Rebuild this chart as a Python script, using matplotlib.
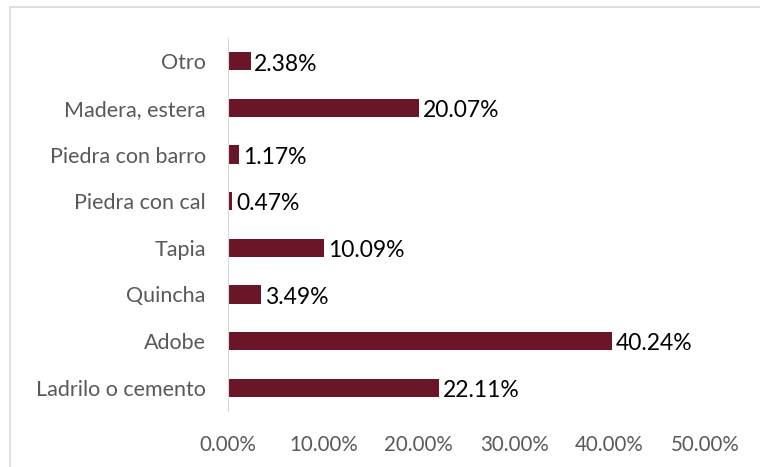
import matplotlib.pyplot as plt
import matplotlib.patches as patches
from matplotlib.ticker import FuncFormatter

categorias = ["Ladrilo o cemento", "Adobe", "Quincha", "Tapia",
              "Piedra con cal", "Piedra con barro", "Madera, estera", "Otro"]
valores = [22.11, 40.24, 3.49, 10.09, 0.47, 1.17, 20.07, 2.38]
ticks_x = [0, 10, 20, 30, 40, 50]

plt.rcParams['font.family'] = ['Lato', 'DejaVu Sans']

fig = plt.figure(figsize=(7.6, 4.67), dpi=100)
ax = fig.add_axes([0.3, 0.12, 0.6276, 0.7986])

color_barra = "#6B1528"
y = range(len(categorias))
barras = ax.barh(y, valores, height=0.39, color=color_barra)

for b, v in zip(barras, valores):
    ax.annotate(f"{v:.2f}%", (b.get_width(), b.get_y() + b.get_height() / 2),
                xytext=(2.5, -2), textcoords="offset points",
                ha="left", va="center", fontsize=16.5, color="black")

ax.set_xlim(0, 50)
ax.set_ylim(-0.5, len(categorias) - 0.5)
ax.set_yticks(list(y))
ax.set_yticklabels(categorias, fontsize=15.5, color="#595959")
ax.set_xticks(ticks_x)
ax.xaxis.set_major_formatter(FuncFormatter(lambda v, p: f"{v:.2f}%"))
ax.tick_params(axis="x", labelsize=14.8, labelcolor="#595959", length=0, pad=17)
ax.tick_params(axis="y", length=0, pad=16)

for s in ["top", "right", "bottom"]:
    ax.spines[s].set_visible(False)
ax.spines["left"].set_color("#D9D9D9")

# marco gris del gráfico
marco = patches.Rectangle((10 / 760, -0.1), 1.2, 1.1 - 7 / 467,
                          transform=fig.transFigure, fill=False,
                          edgecolor="#D9D9D9", linewidth=1.2)
fig.patches.append(marco)

fig.savefig("out.png", dpi=100)
